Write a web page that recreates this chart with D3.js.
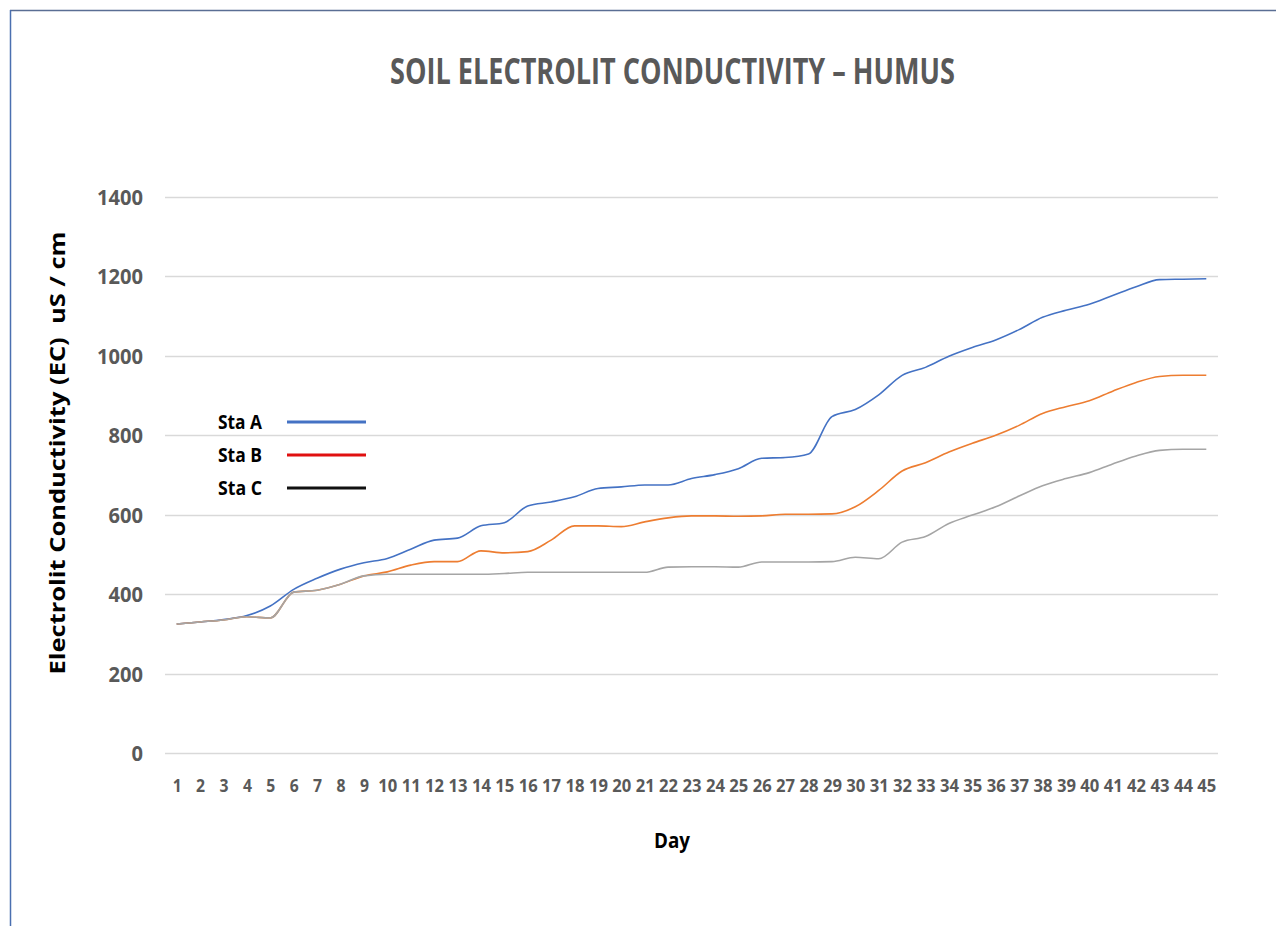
<!DOCTYPE html>
<html><head><meta charset="utf-8">
<script src="https://cdn.jsdelivr.net/npm/d3@7"></script>
<style>html,body{margin:0;padding:0;background:#fff;}svg{display:block;}</style>
</head><body>
<svg id="chart" width="1276" height="926"></svg>
<script>
const days = d3.range(1, 46);
const yTicks = [0, 200, 400, 600, 800, 1000, 1200, 1400];
const seriesNames = ["Sta A", "Sta B", "Sta C"];
const staA = [325,330,336,346,370,412,440,463,479,490,513,536,541,572,580,622,632,645,666,670,675,675,691,701,716,742,744,753,847,865,902,951,971,999,1021,1040,1066,1097,1115,1130,1152,1174,1192,1193,1194];
const staB = [325,330,335,343,340,405,410,425,446,456,473,482,482,509,504,507,536,572,572,570,582,592,597,597,596,597,601,601,602,620,661,710,731,758,780,800,825,855,872,887,911,933,948,951,951];
const staC = [325,330,335,343,340,405,410,425,446,450,450,450,450,450,452,455,455,455,455,455,455,468,469,469,468,481,481,481,482,493,489,531,545,578,599,620,647,673,691,706,728,748,762,765,765];
const lineColors = ["#4472C4", "#ED7D31", "#A5A5A5"];
const legendColors = ["#4472C4", "#E01010", "#111111"];

const svg = d3.select("#chart");
const x = d3.scalePoint().domain(days).range([165, 1218]).padding(0.5);
const y = d3.scaleLinear().domain([0, 1400]).range([753, 197]);
const FONT = "'Open Sans', sans-serif";

// frame border
svg.append("line").attr("x1", 10).attr("x2", 1276).attr("y1", 10.5).attr("y2", 10.5).attr("stroke", "#5a6e94").attr("stroke-width", 1.5);
svg.append("line").attr("x1", 10.5).attr("x2", 10.5).attr("y1", 10).attr("y2", 926).attr("stroke", "#4a6fb0").attr("stroke-width", 1.5);

// title
svg.append("text").attr("x", 390).attr("y", 84)
  .attr("textLength", 565).attr("lengthAdjust", "spacingAndGlyphs")
  .style("font-family", FONT).style("font-weight", "700").style("font-size", "36px")
  .attr("fill", "#595959").text("SOIL ELECTROLIT CONDUCTIVITY \u2013 HUMUS");

// gridlines
svg.append("g").selectAll("line").data(yTicks).join("line")
  .attr("x1", 165).attr("x2", 1218)
  .attr("y1", d => Math.round(y(d)) + 0.5).attr("y2", d => Math.round(y(d)) + 0.5)
  .attr("stroke", "#D9D9D9").attr("stroke-width", 1.5);

// y axis
const yAxis = d3.axisLeft(y).tickValues(yTicks).tickFormat(d3.format("d")).tickSize(0).tickPadding(0);
const gy = svg.append("g").attr("transform", "translate(143,0)").call(yAxis);
gy.select(".domain").remove();
gy.selectAll("text").attr("fill", "#595959").attr("dy", "0.36em")
  .style("font-family", FONT).style("font-weight", "700").style("font-size", "21px")
  .attr("textLength", d => String(d).length * 11.5).attr("lengthAdjust", "spacingAndGlyphs");

// x axis
const xAxis = d3.axisBottom(x).tickSize(0).tickPadding(0);
const gx = svg.append("g").attr("transform", "translate(0,779)").call(xAxis);
gx.select(".domain").remove();
gx.selectAll("text").attr("fill", "#595959").attr("dy", "0.71em")
  .style("font-family", FONT).style("font-weight", "700").style("font-size", "18px")
  .attr("textLength", d => d < 10 ? 9 : 19).attr("lengthAdjust", "spacingAndGlyphs");

// axis titles
svg.append("text").attr("transform", "translate(65,453) rotate(-90)").attr("text-anchor", "middle")
  .attr("textLength", 443).attr("lengthAdjust", "spacingAndGlyphs")
  .style("font-family", FONT).style("font-weight", "700").style("font-size", "22px")
  .attr("fill", "#000").text("Electrolit Conductivity (EC)\u00a0\u00a0uS / cm");
svg.append("text").attr("x", 672).attr("y", 848).attr("text-anchor", "middle")
  .attr("textLength", 36).attr("lengthAdjust", "spacingAndGlyphs")
  .style("font-family", FONT).style("font-weight", "700").style("font-size", "22px")
  .attr("fill", "#000").text("Day");

// lines
const line = d3.line().x((d, i) => x(days[i])).y(d => y(d)).curve(d3.curveMonotoneX);
[staA, staB, staC].forEach((s, i) => {
  svg.append("path").datum(s).attr("d", line).attr("fill", "none")
    .attr("stroke", lineColors[i]).attr("stroke-width", 1.6);
});

// legend
const leg = svg.append("g");
seriesNames.forEach((n, i) => {
  const ly = 422 + i * 33;
  leg.append("text").attr("x", 218).attr("y", ly + 7)
    .style("font-family", FONT).style("font-weight", "700").style("font-size", "19px")
    .attr("textLength", 44).attr("lengthAdjust", "spacingAndGlyphs")
    .attr("fill", "#000").text(n);
  leg.append("line").attr("x1", 287).attr("x2", 366).attr("y1", ly).attr("y2", ly)
    .attr("stroke", legendColors[i]).attr("stroke-width", 3);
});
</script>
</body></html>
